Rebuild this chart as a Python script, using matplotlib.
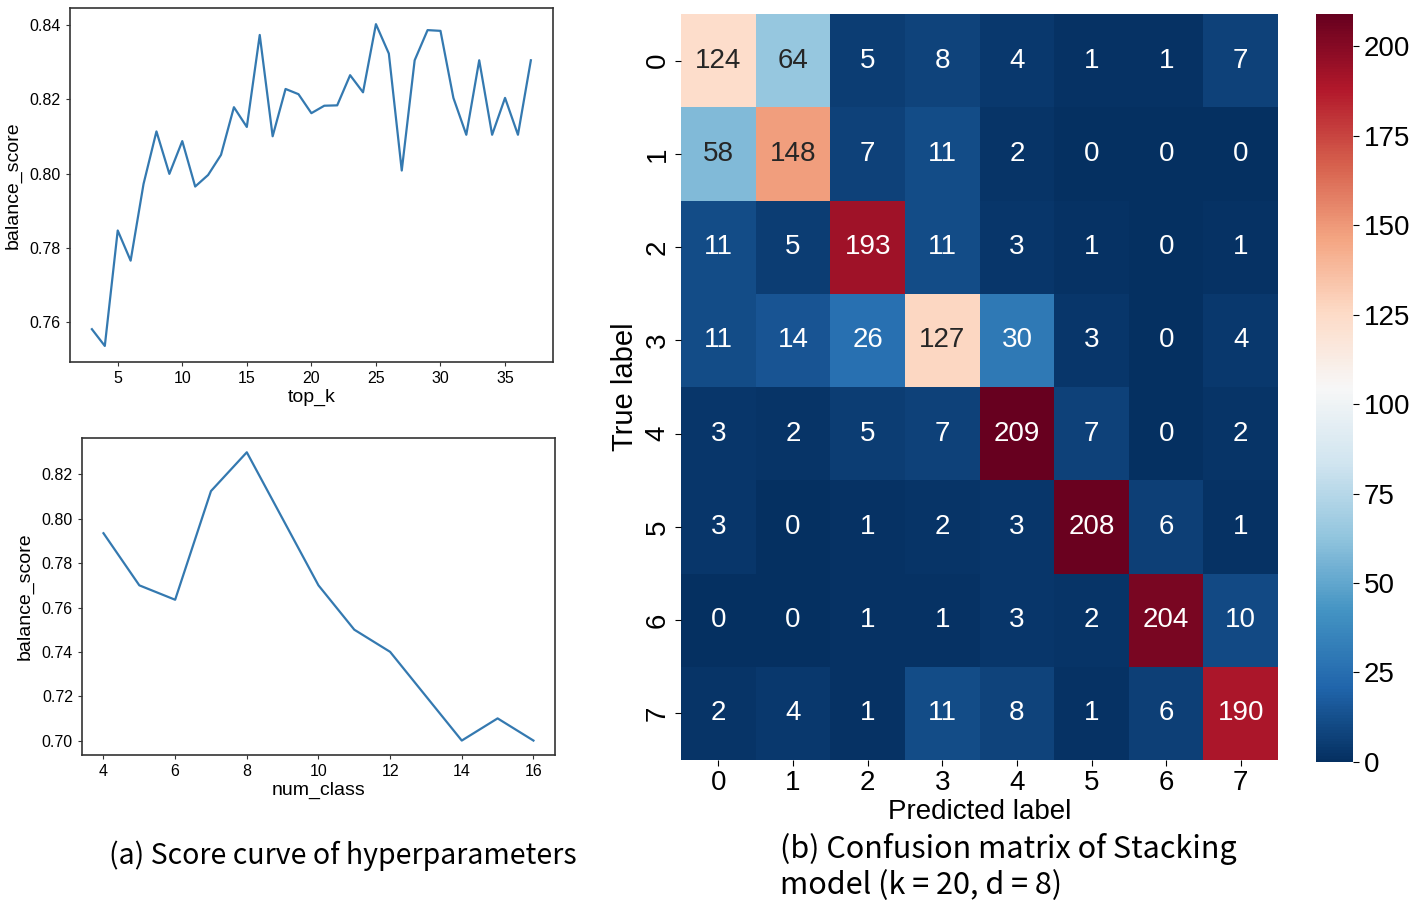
import numpy as np
import matplotlib
matplotlib.use("Agg")
import matplotlib.pyplot as plt
import seaborn as sns

top_k = list(range(3, 38))
top_k_score = [0.7582, 0.7537, 0.7847, 0.7766, 0.7972, 0.8113, 0.7999, 0.8087,
               0.7965, 0.7996, 0.8050, 0.8178, 0.8125, 0.8372, 0.8100, 0.8227,
               0.8213, 0.8162, 0.8182, 0.8183, 0.8264, 0.8218, 0.8401, 0.8322,
               0.8008, 0.8304, 0.8385, 0.8383, 0.8203, 0.8104, 0.8304, 0.8104,
               0.8203, 0.8104, 0.8304]

num_class = list(range(4, 17))
num_class_score = [0.7935, 0.770, 0.7635, 0.8125, 0.830, 0.800, 0.770,
                   0.750, 0.740, 0.720, 0.700, 0.710, 0.700]

labels = ['0', '1', '2', '3', '4', '5', '6', '7']
cm = np.array([
    [124, 64, 5, 8, 4, 1, 1, 7],
    [58, 148, 7, 11, 2, 0, 0, 0],
    [11, 5, 193, 11, 3, 1, 0, 1],
    [11, 14, 26, 127, 30, 3, 0, 4],
    [3, 2, 5, 7, 209, 7, 0, 2],
    [3, 0, 1, 2, 3, 208, 6, 1],
    [0, 0, 1, 1, 3, 2, 204, 10],
    [2, 4, 1, 11, 8, 1, 6, 190],
])

plt.rcParams['font.family'] = ['Liberation Sans', 'DejaVu Sans']
line_color = '#3479b0'

fig = plt.figure(figsize=(14.16, 9.06), dpi=100)

# (a) top: score vs top_k
ax1 = fig.add_axes([0.0494, 0.6004, 0.341, 0.3907])
ax1.plot(top_k, top_k_score, color=line_color, lw=1.6)
ax1.set_xticks([5, 10, 15, 20, 25, 30, 35])
ax1.set_yticks([0.76, 0.78, 0.80, 0.82, 0.84])
ax1.set_xlabel('top_k', fontsize=14, labelpad=2)
ax1.set_ylabel('balance_score', fontsize=14, labelpad=6)

# (a) bottom: score vs num_class
ax2 = fig.add_axes([0.0579, 0.1667, 0.334, 0.35])
ax2.plot(num_class, num_class_score, color=line_color, lw=1.6)
ax2.set_xticks([4, 6, 8, 10, 12, 14, 16])
ax2.set_yticks([0.70, 0.72, 0.74, 0.76, 0.78, 0.80, 0.82])
ax2.set_xlabel('num_class', fontsize=14, labelpad=2)
ax2.set_ylabel('balance_score', fontsize=14, labelpad=6)

for ax in (ax1, ax2):
    ax.tick_params(labelsize=11.5, length=3, color='#333333', width=0.8)
    for s in ax.spines.values():
        s.set_color('#333333')
        s.set_linewidth(1.2)

# (b) confusion matrix
ax3 = fig.add_axes([0.481, 0.1611, 0.4216, 0.8234])
cax = fig.add_axes([0.9294, 0.159, 0.0261, 0.8256])
sns.heatmap(cm, ax=ax3, cbar_ax=cax, cmap='RdBu_r', vmin=0, vmax=209,
            annot=True, fmt='d', annot_kws={'fontsize': 20},
            xticklabels=labels, yticklabels=labels)
ax3.tick_params(labelsize=20, length=4)
ax3.set_yticklabels(labels, rotation=90, va='center')
ax3.set_xlabel('Predicted label', fontsize=20, labelpad=2)
ax3.set_ylabel('True label', fontsize=21, labelpad=4)
cax.tick_params(labelsize=20, length=4)
cax.set_yticks([0, 25, 50, 75, 100, 125, 150, 175, 200])

cap_font = ['Noto Sans CJK SC', 'DejaVu Sans']
fig.text(0.242, 0.056, '(a) Score curve of hyperparameters', fontsize=20.5,
         family=cap_font, ha='center', va='center')
fig.text(0.551, 0.043, '(b) Confusion matrix of Stacking\nmodel (k = 20, d = 8)',
         fontsize=22, family=cap_font, ha='left', va='center', linespacing=1.2)

fig.savefig('out.png', dpi=100)
